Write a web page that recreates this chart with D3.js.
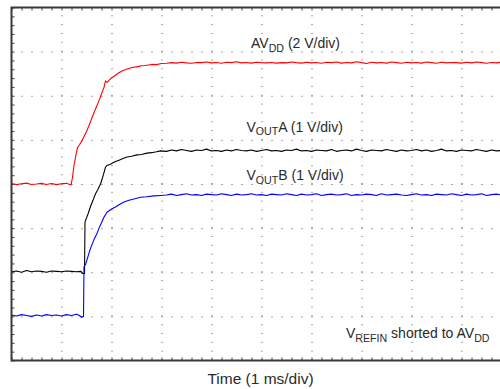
<!DOCTYPE html>
<html><head><meta charset="utf-8">
<script src="https://cdn.jsdelivr.net/npm/d3@7/dist/d3.min.js"></script>
<style>
html,body{margin:0;padding:0;background:#fff;}
svg{display:block;font-family:"Liberation Sans",Arial,Helvetica,sans-serif;}
</style></head><body>
<svg id="chart" width="500" height="389"></svg>
<script>
// ---- Data (time in ms, voltage in V) ----
const timeDivs = [0,1,2,3,4,5,6,7,8,9,10];
const voltDivs = [0,1,2,3,4,5,6,7,8];

const avdd = [
[0,0.02],[0.1,-0.03],[0.2,0.01],[0.3,0.04],[0.4,-0.02],[0.5,0.00],[0.6,0.03],[0.7,-0.02],[0.8,0.02],[0.9,-0.03],
[1.0,0.01],[1.1,0.03],[1.15,-0.01],[1.19,-0.05],
[1.22,0.30],[1.25,0.85],[1.28,1.20],[1.30,1.45],[1.32,1.65],[1.36,1.78],[1.40,1.92],[1.45,2.15],[1.50,2.38],
[1.55,2.65],[1.61,3.00],[1.68,3.40],[1.75,3.78],[1.80,4.08],[1.85,4.38],[1.88,4.68],[1.91,4.60],[1.95,4.70],
[1.98,4.77],[2.03,4.85],[2.08,4.93],[2.14,5.03],[2.21,5.12],[2.30,5.20],[2.41,5.28],[2.50,5.31],[2.60,5.36],
[2.68,5.37],[2.80,5.42],[2.90,5.41],[3.00,5.46],
[3.1,5.47],[3.2,5.50],[3.3,5.48],[3.4,5.52],[3.5,5.49],[3.6,5.47],[3.7,5.51],[3.8,5.50],[3.9,5.53],[4.0,5.49],
[4.1,5.51],[4.2,5.47],[4.3,5.52],[4.4,5.50],[4.5,5.54],[4.6,5.49],[4.7,5.51],[4.8,5.48],[4.9,5.52],[5.0,5.50],
[5.1,5.49],[5.2,5.51],[5.3,5.48],[5.4,5.50],[5.5,5.49],[5.6,5.53],[5.7,5.50],[5.8,5.48],[5.9,5.52],[6.0,5.49],
[6.1,5.51],[6.2,5.47],[6.3,5.52],[6.4,5.50],[6.5,5.53],[6.6,5.48],[6.7,5.51],[6.8,5.49],[6.9,5.54],[7.0,5.50],
[7.1,5.46],[7.2,5.52],[7.3,5.49],[7.4,5.51],[7.5,5.48],[7.6,5.53],[7.7,5.50],[7.8,5.47],[7.9,5.52],[8.0,5.49],
[8.1,5.51],[8.2,5.48],[8.3,5.53],[8.4,5.50],[8.5,5.47],[8.6,5.52],[8.7,5.49],[8.8,5.51],[8.9,5.50],[9.0,5.48],
[9.1,5.52],[9.2,5.49],[9.3,5.53],[9.4,5.50],[9.5,5.47],[9.6,5.51],[9.7,5.49],[9.8,5.52],[9.9,5.48],[10.0,5.50]
];

const voutA = [
[0,0.01],[0.1,0.03],[0.2,0.00],[0.3,0.04],[0.4,0.01],[0.5,0.03],[0.6,0.02],[0.7,0.00],[0.8,0.03],[0.9,0.02],
[1.0,0.01],[1.1,0.03],[1.2,0.02],[1.3,0.01],[1.39,0.02],[1.42,-0.03],[1.46,-0.03],
[1.47,1.13],[1.48,1.17],[1.53,1.32],[1.58,1.49],[1.63,1.63],[1.68,1.78],[1.73,1.88],[1.78,2.00],[1.83,2.18],
[1.88,2.38],[1.91,2.42],[1.98,2.45],[2.03,2.48],[2.08,2.51],[2.15,2.54],[2.22,2.57],[2.31,2.61],[2.40,2.63],
[2.51,2.66],[2.60,2.67],[2.71,2.70],[2.80,2.71],[2.90,2.73],[2.98,2.75],
[3.1,2.74],[3.2,2.77],[3.3,2.75],[3.4,2.78],[3.5,2.76],[3.6,2.74],[3.7,2.77],[3.8,2.76],[3.9,2.79],[4.0,2.75],
[4.1,2.76],[4.2,2.74],[4.3,2.77],[4.4,2.75],[4.5,2.78],[4.6,2.76],[4.7,2.75],[4.8,2.77],[4.9,2.74],[5.0,2.76],
[5.1,2.78],[5.2,2.75],[5.3,2.76],[5.4,2.74],[5.5,2.77],[5.6,2.76],[5.7,2.79],[5.8,2.75],[5.9,2.76],[6.0,2.74],
[6.1,2.77],[6.2,2.76],[6.3,2.75],[6.4,2.78],[6.5,2.74],[6.6,2.76],[6.7,2.77],[6.8,2.75],[6.9,2.79],[7.0,2.76],
[7.1,2.74],[7.2,2.77],[7.3,2.76],[7.4,2.75],[7.5,2.78],[7.6,2.76],[7.7,2.74],[7.8,2.77],[7.9,2.75],[8.0,2.76],
[8.1,2.78],[8.2,2.75],[8.3,2.77],[8.4,2.74],[8.5,2.76],[8.6,2.79],[8.7,2.75],[8.8,2.76],[8.9,2.74],[9.0,2.77],
[9.1,2.76],[9.2,2.75],[9.3,2.78],[9.4,2.76],[9.5,2.74],[9.6,2.77],[9.7,2.75],[9.8,2.76],[9.9,2.78],[10.0,2.75]
];

const voutB = [
[0,0.03],[0.1,0.01],[0.2,0.04],[0.3,0.02],[0.4,0.00],[0.5,0.03],[0.6,0.01],[0.7,0.04],[0.8,0.02],[0.9,0.03],
[1.0,0.01],[1.1,0.04],[1.2,0.02],[1.3,0.05],[1.36,0.02],[1.40,-0.02],[1.44,0.00],
[1.45,1.13],[1.48,1.17],[1.53,1.36],[1.58,1.54],[1.65,1.74],[1.71,1.88],[1.75,2.00],[1.80,2.12],[1.85,2.25],
[1.91,2.36],[1.96,2.40],[2.01,2.44],[2.08,2.48],[2.15,2.53],[2.25,2.59],[2.35,2.63],[2.45,2.66],[2.58,2.70],
[2.70,2.71],[2.85,2.73],[2.98,2.74],
[3.1,2.75],[3.2,2.77],[3.3,2.74],[3.4,2.76],[3.5,2.78],[3.6,2.75],[3.7,2.76],[3.8,2.74],[3.9,2.77],[4.0,2.76],
[4.1,2.75],[4.2,2.78],[4.3,2.76],[4.4,2.74],[4.5,2.77],[4.6,2.75],[4.7,2.76],[4.8,2.78],[4.9,2.75],[5.0,2.76],
[5.1,2.74],[5.2,2.77],[5.3,2.76],[5.4,2.75],[5.5,2.78],[5.6,2.76],[5.7,2.74],[5.8,2.77],[5.9,2.75],[6.0,2.76],
[6.1,2.78],[6.2,2.74],[6.3,2.76],[6.4,2.77],[6.5,2.75],[6.6,2.76],[6.7,2.78],[6.8,2.74],[6.9,2.76],[7.0,2.75],
[7.1,2.77],[7.2,2.76],[7.3,2.74],[7.4,2.78],[7.5,2.75],[7.6,2.76],[7.7,2.77],[7.8,2.75],[7.9,2.74],[8.0,2.76],
[8.1,2.78],[8.2,2.75],[8.3,2.76],[8.4,2.74],[8.5,2.77],[8.6,2.76],[8.7,2.75],[8.8,2.78],[8.9,2.76],[9.0,2.74],
[9.1,2.77],[9.2,2.75],[9.3,2.76],[9.4,2.78],[9.5,2.74],[9.6,2.76],[9.7,2.77],[9.8,2.75],[9.9,2.76],[10.0,2.75]
];

// ---- Chart ----
const svg = d3.select("#chart");
const pLeft = 11.5, pRight = 511.5, pTop = 7.5, pBottom = 360.5;
const x = d3.scaleLinear().domain([0, 10]).range([pLeft, pRight]);
const y = d3.scaleLinear().domain([0, 8]).range([pBottom, pTop]);
const minorX = d3.range(0, 50.5, 1).map(i => i / 5);
const minorY = d3.range(0, 40.5, 1).map(i => i / 5);

svg.append("defs").append("clipPath").attr("id","plot")
  .append("rect").attr("x", pLeft).attr("y", pTop).attr("width", pRight-pLeft).attr("height", pBottom-pTop);

// dotted grid
const gridX = svg.append("g").attr("transform", `translate(0,${pBottom})`)
  .call(d3.axisBottom(x).tickValues(timeDivs.slice(1, -1)).tickSize(-(pBottom-pTop)).tickFormat(""));
gridX.select(".domain").remove();
gridX.selectAll("line").attr("stroke", "#555").attr("stroke-dasharray", `1 ${(pBottom-pTop)/40-1}`);

const gridY = svg.append("g").attr("transform", `translate(${pLeft},0)`)
  .call(d3.axisLeft(y).tickValues(voltDivs.slice(1, -1)).tickSize(-(pRight-pLeft)).tickFormat(""));
gridY.select(".domain").remove();
gridY.selectAll("line").attr("stroke", "#555").attr("stroke-dasharray", "1 9");

// minor ticks on frame
function minor(g){ g.select(".domain").remove(); g.selectAll("line").attr("stroke","#444"); }
svg.append("g").attr("transform", `translate(0,${pTop})`)
  .call(d3.axisTop(x).tickValues(minorX).tickSize(-3).tickFormat("")).call(minor);
svg.append("g").attr("transform", `translate(0,${pBottom})`)
  .call(d3.axisBottom(x).tickValues(minorX).tickSize(-3).tickFormat("")).call(minor);
svg.append("g").attr("transform", `translate(${pLeft},0)`)
  .call(d3.axisLeft(y).tickValues(minorY).tickSize(-3).tickFormat("")).call(minor);

// traces
const traces = [
  {data: avdd,  vPerDiv: 2, zeroDiv: 4, color: "#ff0000"},
  {data: voutA, vPerDiv: 1, zeroDiv: 2, color: "#000000"},
  {data: voutB, vPerDiv: 1, zeroDiv: 1, color: "#0000ff"}
];
const tg = svg.append("g").attr("clip-path", "url(#plot)");
traces.forEach(tr => {
  const line = d3.line().x(d => x(d[0])).y(d => y(tr.zeroDiv + d[1] / tr.vPerDiv));
  tg.append("path").datum(tr.data).attr("d", line)
    .attr("fill", "none").attr("stroke", tr.color).attr("stroke-width", 1.1)
    .attr("stroke-linejoin", "round");
});

// frame
svg.append("rect").attr("x", pLeft).attr("y", pTop).attr("width", pRight-pLeft).attr("height", pBottom-pTop)
  .attr("fill", "none").attr("stroke", "#3a3a3a").attr("stroke-width", 2);

// labels
function label(xp, yp, parts, size) {
  const t = svg.append("text").attr("x", xp).attr("y", yp).attr("fill", "#2a2a2a").attr("font-size", size);
  let shift = 0;
  parts.forEach(p => {
    const s = p.sub ? 3.8 : 0;
    t.append("tspan").attr("dy", s - shift).attr("font-size", p.sub ? size * 0.76 : size).text(p.t);
    shift = s;
  });
}
label(251, 48, [{t:"AV"},{t:"DD",sub:true},{t:" (2 V/div)"}], 14);
label(246.5, 131.5, [{t:"V"},{t:"OUT",sub:true},{t:"A (1 V/div)"}], 14);
label(246.5, 180, [{t:"V"},{t:"OUT",sub:true},{t:"B (1 V/div)"}], 14);
label(346, 338, [{t:"V"},{t:"REFIN",sub:true},{t:" shorted to AV"},{t:"DD",sub:true}], 14);

svg.append("text").attr("x", 260.5).attr("y", 384).attr("text-anchor", "middle")
  .attr("fill", "#2a2a2a").attr("font-size", 15.5).text("Time (1 ms/div)");
</script>
</body></html>
